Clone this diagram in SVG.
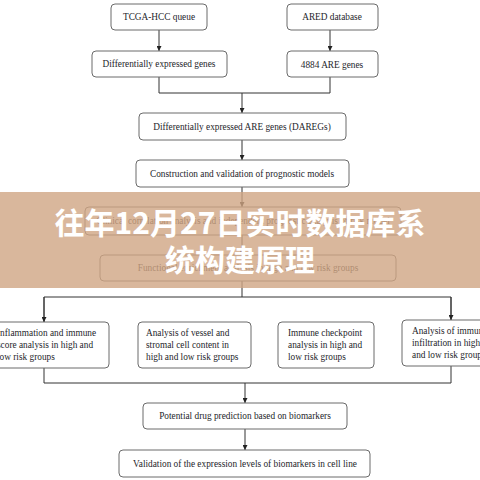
<svg xmlns="http://www.w3.org/2000/svg" width="480" height="480" viewBox="0 0 480 480">
<defs>
<style>
.box{fill:#fff;stroke:#6b6b6b;stroke-width:1}
.t{font-family:"Liberation Serif","DejaVu Serif",serif;font-size:9.3px;fill:#1e1e2a}
.c{text-anchor:middle}
.ln{fill:none;stroke:#333;stroke-width:1}
.title{font-family:"Noto Sans CJK SC","Noto Sans",sans-serif;font-size:30px;font-weight:bold;fill:#fff;text-anchor:middle}
</style>
<marker id="ah" viewBox="0 0 6 6" refX="6" refY="3" markerWidth="5" markerHeight="5" orient="auto">
<path d="M0,0 L6,3 L0,6 z" fill="#222"/>
</marker>
</defs>
<rect width="480" height="480" fill="#fff"/>
<g id="connectors">
<line class="ln" x1="159" y1="30" x2="159" y2="51" marker-end="url(#ah)"/>
<line class="ln" x1="330" y1="30" x2="330" y2="51" marker-end="url(#ah)"/>
<polyline class="ln" points="159,77 159,93 330,93 330,77"/>
<line class="ln" x1="242" y1="93" x2="242" y2="113" marker-end="url(#ah)"/>
<line class="ln" x1="242" y1="140" x2="242" y2="160" marker-end="url(#ah)"/>
<line class="ln" x1="242" y1="187" x2="242" y2="207" marker-end="url(#ah)"/>
<line class="ln" x1="242" y1="235" x2="242" y2="255" marker-end="url(#ah)"/>
<polyline class="ln" points="242,281 242,297"/>
<polyline class="ln" points="44,322 44,297 451,297 451,320"/>
<line class="ln" x1="44" y1="297" x2="44" y2="322" marker-end="url(#ah)"/>
<line class="ln" x1="451" y1="297" x2="451" y2="320" marker-end="url(#ah)"/>
<polyline class="ln" points="44,368 44,383 451,383 451,366"/>
<line class="ln" x1="245" y1="383" x2="245" y2="403" marker-end="url(#ah)"/>
<line class="ln" x1="245" y1="429" x2="245" y2="450" marker-end="url(#ah)"/>
</g>
<g id="n1"><rect class="box" x="111" y="4" width="96" height="26" rx="4"/><text class="t c" x="159" y="20">TCGA-HCC queue</text></g>
<g id="n2"><rect class="box" x="287" y="4" width="91" height="26" rx="4"/><text class="t c" x="332" y="20">ARED database</text></g>
<g id="n3"><rect class="box" x="92" y="51" width="135" height="26" rx="4"/><text class="t c" x="159" y="67">Differentially expressed genes</text></g>
<g id="n4"><rect class="box" x="287" y="51" width="91" height="26" rx="4"/><text class="t c" x="332" y="68">4884 ARE genes</text></g>
<g id="n5"><rect class="box" x="139" y="113" width="207" height="27" rx="4"/><text class="t c" x="242" y="130">Differentially expressed ARE genes (DAREGs)</text></g>
<g id="n6"><rect class="box" x="136" y="160" width="213" height="27" rx="4"/><text class="t c" x="242" y="177">Construction and validation of prognostic models</text></g>
<g id="n7"><rect class="box" x="85" y="207" width="316" height="28" rx="4"/><text class="t c" x="243" y="224">Clinical correlation analysis and independent prognostic analysis of risk model</text></g>
<g id="n8"><rect class="box" x="100" y="255" width="296" height="26" rx="4"/><text class="t c" x="248" y="271">Functional enrichment analysis in high and low risk groups</text></g>
<g id="n9"><rect class="box" x="-20" y="322" width="129" height="46" rx="4"/><text class="t"><tspan x="-3" y="336">Inflammation and immune</tspan><tspan x="-3" y="348">score analysis in high and</tspan><tspan x="-3" y="360">low risk groups</tspan></text></g>
<g id="n10"><rect class="box" x="138" y="322" width="113" height="46" rx="4"/><text class="t"><tspan x="146" y="336">Analysis of vessel and</tspan><tspan x="146" y="348">stromal cell content in</tspan><tspan x="146" y="360">high and low risk groups</tspan></text></g>
<g id="n11"><rect class="box" x="278" y="322" width="96" height="46" rx="4"/><text class="t"><tspan x="288" y="336">Immune checkpoint</tspan><tspan x="288" y="348">analysis in high and</tspan><tspan x="288" y="360">low risk groups</tspan></text></g>
<g id="n12"><rect class="box" x="402" y="320" width="100" height="46" rx="4"/><text class="t"><tspan x="412" y="334">Analysis of immune</tspan><tspan x="412" y="346">infiltration in high</tspan><tspan x="412" y="358">and low risk groups</tspan></text></g>
<g id="n13"><rect class="box" x="143" y="403" width="204" height="26" rx="4"/><text class="t c" x="245" y="419">Potential drug prediction based on biomarkers</text></g>
<g id="n14"><rect class="box" x="119" y="450" width="251" height="27" rx="4"/><text class="t c" x="245" y="467">Validation of the expression levels of biomarkers in cell line</text></g>
<g id="banner">
<rect x="0" y="192" width="480" height="96" fill="#d0a583" opacity="0.8"/>
<text class="title" x="240" y="234">往年12月27日实时数据库系</text>
<text class="title" x="240" y="271">统构建原理</text>
</g>
</svg>
